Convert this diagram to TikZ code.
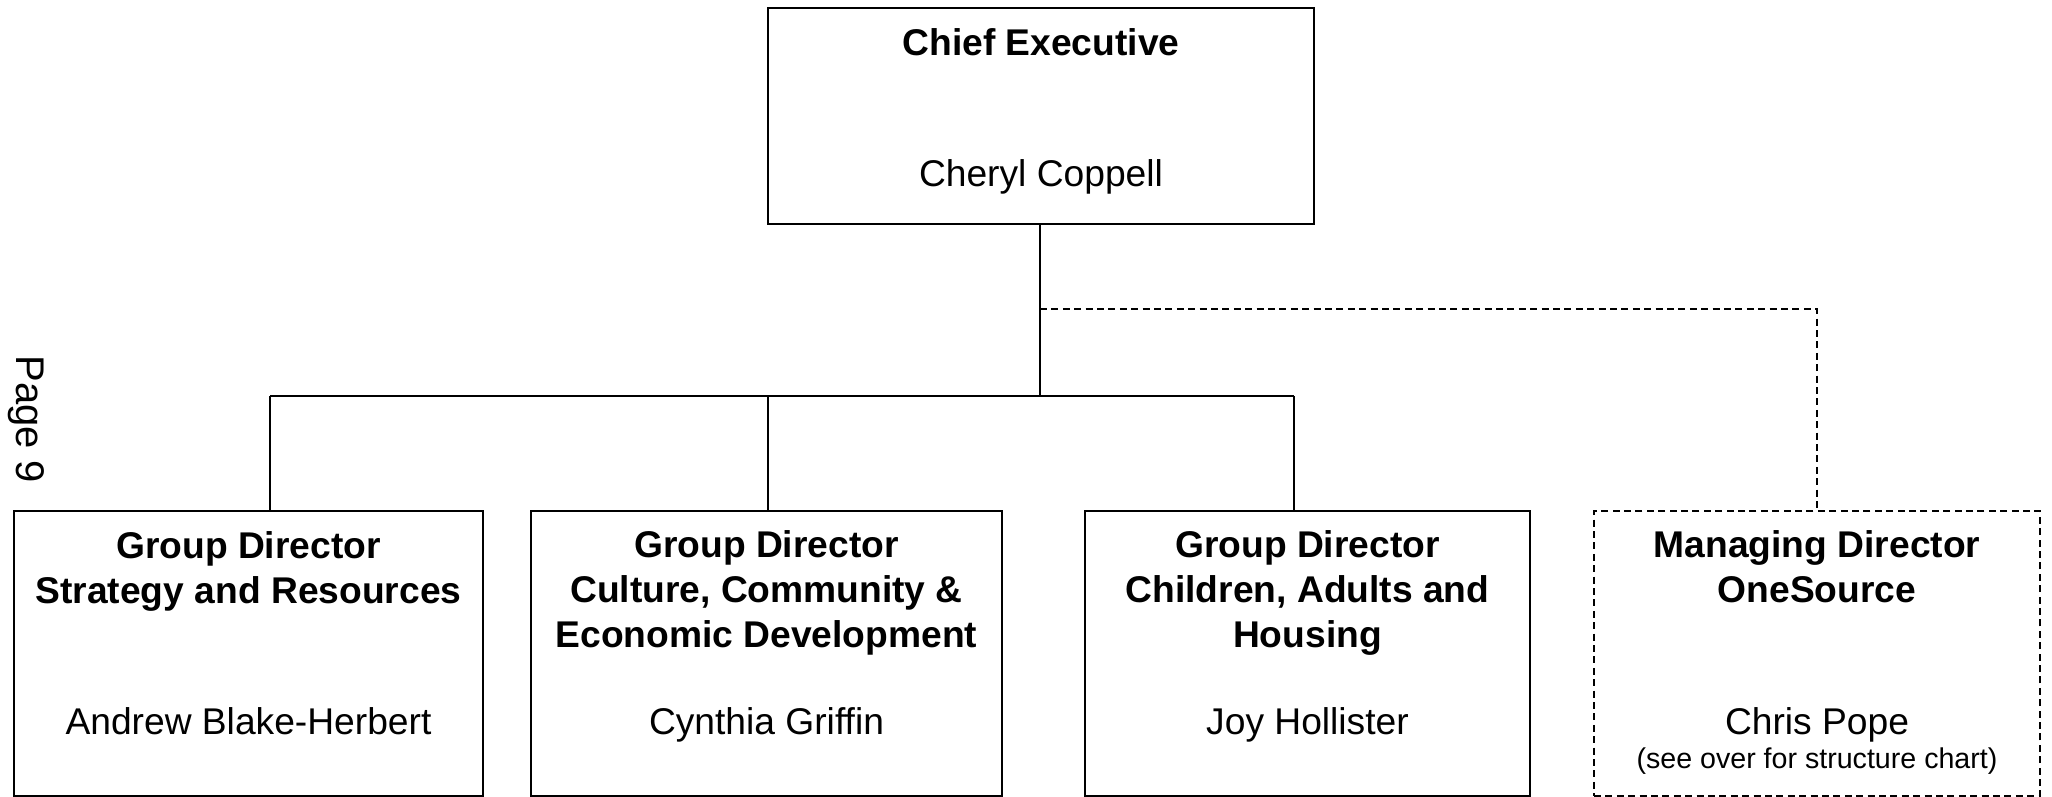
\documentclass[tikz,border=0pt]{standalone}
\usepackage{fontspec}
\setmainfont{Liberation Sans}
\begin{document}
\begin{tikzpicture}[x=0.5pt,y=-0.5pt,
  box/.style={draw=black,line width=1pt,rectangle,inner sep=0pt},
  dbox/.style={box,dash pattern=on 3.5pt off 2.2pt},
  conn/.style={draw=black,line width=0.8pt},
  dconn/.style={conn,dash pattern=on 3.5pt off 2.2pt},
  ttl/.style={font=\fontsize{18.6pt}{22.5pt}\selectfont\bfseries,align=center,inner sep=0pt},
  nm/.style={font=\fontsize{18.6pt}{22.5pt}\selectfont,align=center,inner sep=0pt,anchor=base},
  sm/.style={font=\fontsize{14.3pt}{17pt}\selectfont,align=center,inner sep=0pt}]
\useasboundingbox (0,0) rectangle (2052,797);
% boxes
\node[box,minimum width=273pt,minimum height=108pt] (ce) at (1041,116) {};
\node[box,minimum width=234.5pt,minimum height=142.5pt] (b1) at (248.5,653.5) {};
\node[box,minimum width=235.5pt,minimum height=142.5pt] (b2) at (766.5,653.5) {};
\node[box,minimum width=222.5pt,minimum height=142.5pt] (b3) at (1307.5,653.5) {};
\node[dbox,minimum width=223pt,minimum height=142.5pt] (b4) at (1817,653.5) {};
% texts
\node[ttl] (ceT) at (1041,42) {Chief Executive};
\node[nm] (ceN) at (1041,186.5) {Cheryl Coppell};
\node[ttl] (b1T) at (248.5,571) {Group Director\\Strategy and Resources};
\node[nm] (b1N) at (248.5,734.5) {Andrew Blake-Herbert};
\node[ttl] (b2T) at (766.5,593) {Group Director\\Culture, Community \&\\Economic Development};
\node[nm] (b2N) at (766.5,734.5) {Cynthia Griffin};
\node[ttl] (b3T) at (1307.5,593) {Group Director\\Children, Adults and\\Housing};
\node[nm] (b3N) at (1307.5,734.5) {Joy Hollister};
\node[ttl] (b4T) at (1817,567) {Managing Director\\OneSource};
\node[nm] (b4N) at (1817,734.5) {Chris Pope};
\node[sm] (b4S) at (1817,761) {(see over for structure chart)};
\node[font=\fontsize{20pt}{24pt}\selectfont,rotate=-90,inner sep=0pt] (pg) at (26,419) {Page 9};
% connectors
\coordinate (j) at (1040,396);
\coordinate (d) at (1040,309);
\coordinate (l1) at (270,396);
\coordinate (l2) at (768,396);
\coordinate (l3) at (1294,396);
\coordinate (d4) at (1817,309);
\draw[conn] (ce.south -| j) -- (j);
\draw[conn] (l1) -- (l3);
\draw[conn] (l1) -- (b1.north -| l1);
\draw[conn] (l2) -- (b2.north -| l2);
\draw[conn] (l3) -- (b3.north -| l3);
\draw[dconn] (d) -- (d4) -- (b4.north);
\end{tikzpicture}
\end{document}
